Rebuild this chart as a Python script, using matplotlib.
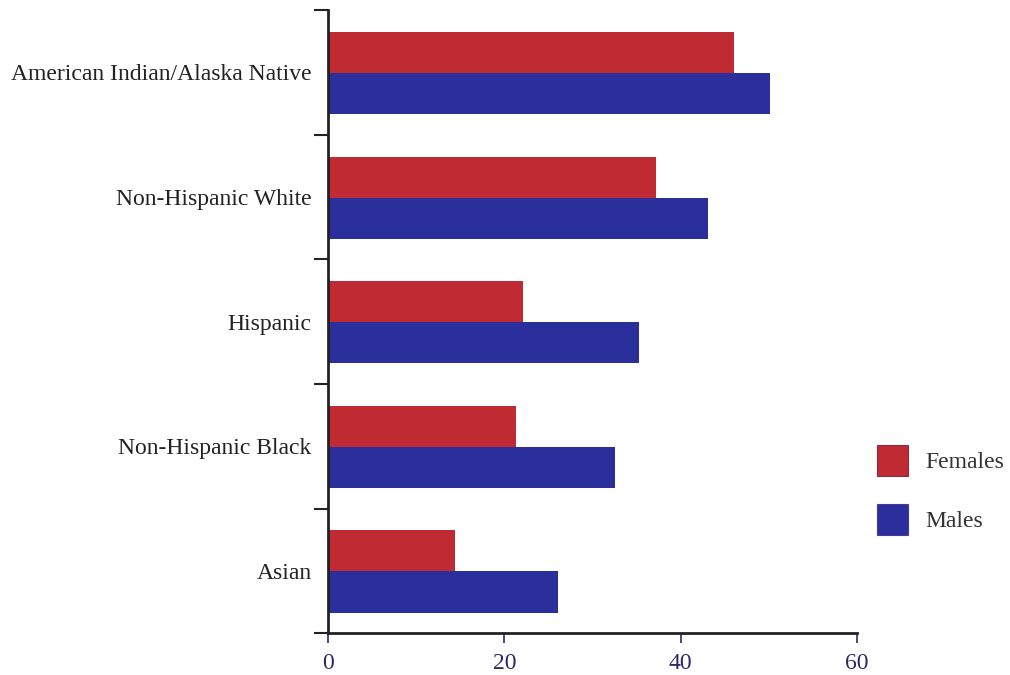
import matplotlib.pyplot as plt
import numpy as np
from matplotlib.patches import Patch

plt.rcParams['font.family'] = ['Liberation Serif', 'DejaVu Serif']

categories = ['Asian', 'Non-Hispanic Black', 'Hispanic',
              'Non-Hispanic White', 'American Indian/Alaska Native']
females = [14.4, 21.3, 22.1, 37.2, 46.1]
males = [26.1, 32.5, 35.3, 43.1, 50.1]
x_ticks = [0, 20, 40, 60]

RED = '#bf2a33'
BLUE = '#2b2f9b'

fig = plt.figure(figsize=(10.1, 6.75), dpi=100)
ax = fig.add_axes([0.325, 0.062, 0.5235, 0.923])

y = np.arange(len(categories))
h = 0.33
ax.barh(y + 0.16, females, height=h, color=RED)
ax.barh(y - 0.17, males, height=h, color=BLUE)

ax.set_xlim(0, 60)
ax.set_ylim(-0.5, len(categories) - 0.5)
ax.set_xticks(x_ticks)
ax.set_xticklabels([str(t) for t in x_ticks], color='#2a2a66', fontsize=17)

ax.set_yticks(np.arange(-0.5, len(categories), 1.0))
ax.set_yticklabels([])
ax.set_yticks(y, minor=True)
ax.set_yticklabels(categories, minor=True, fontsize=17, color='#222222')
ax.tick_params(axis='y', which='minor', length=0, pad=12)
ax.tick_params(axis='y', which='major', length=10, width=1.5, color='#222222')
ax.tick_params(axis='x', length=7, width=1.2, color='#2a2a66', pad=7)

for s in ['top', 'right']:
    ax.spines[s].set_visible(False)
for s in ['left', 'bottom']:
    ax.spines[s].set_linewidth(2)
    ax.spines[s].set_color('#222222')

handles = [Patch(facecolor=RED, edgecolor='#7a3050', linewidth=0.8),
           Patch(facecolor=BLUE, edgecolor='#4a3a90', linewidth=0.8)]
fig.legend(handles, ['Females', 'Males'], loc='upper left',
           bbox_to_anchor=(877 / 1010, 1 - 445 / 675), frameon=False,
           fontsize=17, handlelength=1.31, handleheight=1.64,
           labelspacing=1.2, handletextpad=0.72, borderpad=0,
           borderaxespad=0, labelcolor='#333333')

fig.savefig('out.png', dpi=100)
